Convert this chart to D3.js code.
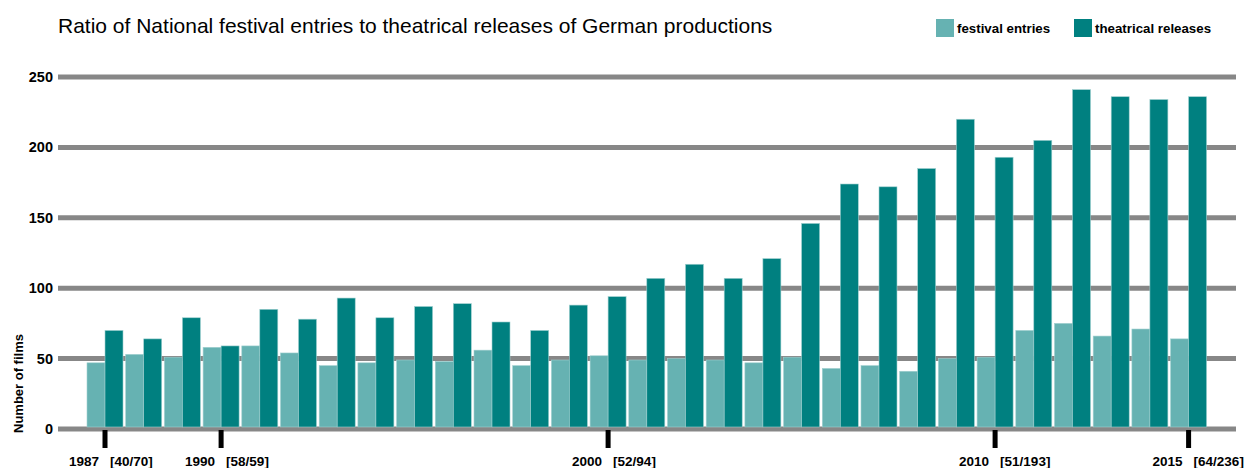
<!DOCTYPE html>
<html>
<head>
<meta charset="utf-8">
<script src="https://cdn.jsdelivr.net/npm/d3@7"></script>
<style>
    body { margin: 0; background: #fff; }
    text { font-family: "Liberation Sans", Arial, sans-serif; fill: #000; }
</style>
</head>
<body>
<div id="chart"></div>
<script>
// data
const years = d3.range(1987, 2016);
const festivalEntries = [47, 53, 51, 58, 59, 54, 45, 47, 49, 48, 56, 45, 49, 52, 49, 50, 49, 47, 51, 43, 45, 41, 50, 51, 70, 75, 66, 71, 64];
const theatricalReleases = [70, 64, 79, 59, 85, 78, 93, 79, 87, 89, 76, 70, 88, 94, 107, 117, 107, 121, 146, 174, 172, 185, 220, 193, 205, 241, 236, 234, 236];
const yTicks = [0, 50, 100, 150, 200, 250];
const tickYears = [1987, 1990, 2000, 2010, 2015];
const tickNotes = ["[40/70]", "[58/59]", "[52/94]", "[51/193]", "[64/236]"];
const seriesNames = ["festival entries", "theatrical releases"];
const colors = ["#66b2b2", "#008080"];

const width = 1249, height = 468;
const plot = { left: 58, right: 1236, top: 77, bottom: 429 };

const svg = d3.select("#chart").append("svg")
    .attr("width", width).attr("height", height);

let x = d3.scaleBand().domain(years).range([84.3, 1209.3]).padding(0.07),
    sub = d3.scaleBand().domain([0, 1]).range([0, x.bandwidth()]),
    y = d3.scaleLinear().domain([0, 250]).range([plot.bottom, plot.top]);

// title
svg.append("text")
    .attr("x", 58).attr("y", 33)
    .attr("font-size", 21)
    .text("Ratio of National festival entries to theatrical releases of German productions");

// legend
let legendX = [936, 1074];
seriesNames.forEach((name, i) => {
    svg.append("rect")
        .attr("x", legendX[i]).attr("y", 19)
        .attr("width", 18).attr("height", 18)
        .attr("fill", colors[i]);
    svg.append("text")
        .attr("x", legendX[i] + 21).attr("y", 33)
        .attr("font-size", 13.3)
        .attr("font-weight", "bold")
        .text(name);
});

// gridlines + y labels
let grid = svg.append("g");
grid.selectAll("line")
    .data(yTicks)
    .enter().append("line")
    .attr("x1", plot.left).attr("x2", plot.right)
    .attr("y1", d => y(d)).attr("y2", d => y(d))
    .attr("stroke", "#878787")
    .attr("stroke-width", 5);
grid.selectAll("text")
    .data(yTicks)
    .enter().append("text")
    .attr("x", 53).attr("y", d => y(d) + 5)
    .attr("text-anchor", "end")
    .attr("font-size", 14.5)
    .attr("font-weight", "bold")
    .text(d => d);

svg.append("text")
    .attr("transform", "translate(23,433) rotate(-90)")
    .attr("font-size", 13)
    .attr("font-weight", "bold")
    .text("Number of films");

// bars
let groups = svg.append("g").selectAll("g")
    .data(years)
    .enter().append("g")
    .attr("transform", d => "translate(" + x(d) + ",0)");

[festivalEntries, theatricalReleases].forEach((series, s) => {
    groups.append("rect")
        .attr("x", sub(s))
        .attr("y", (d, i) => y(series[i]))
        .attr("width", sub.bandwidth())
        .attr("height", (d, i) => y(0) - 2 - y(series[i]))
        .attr("fill", colors[s])
        .attr("stroke", "#9fcfcf")
        .attr("stroke-width", 0.6);
});

// x ticks with notes
let ticks = svg.append("g").selectAll("g")
    .data(tickYears)
    .enter().append("g")
    .attr("transform", d => "translate(" + (x(d) + x.bandwidth() / 2) + ",0)");

ticks.append("rect")
    .attr("x", -2.5).attr("y", 430)
    .attr("width", 5).attr("height", 18)
    .attr("fill", "#000");
ticks.append("text")
    .attr("x", -6).attr("y", 466)
    .attr("text-anchor", "end")
    .attr("font-size", 13.5)
    .attr("font-weight", "bold")
    .text(d => d);
ticks.append("text")
    .attr("x", 5).attr("y", 466)
    .attr("font-size", 13.5)
    .attr("font-weight", "bold")
    .text((d, i) => tickNotes[i]);
</script>
</body>
</html>
